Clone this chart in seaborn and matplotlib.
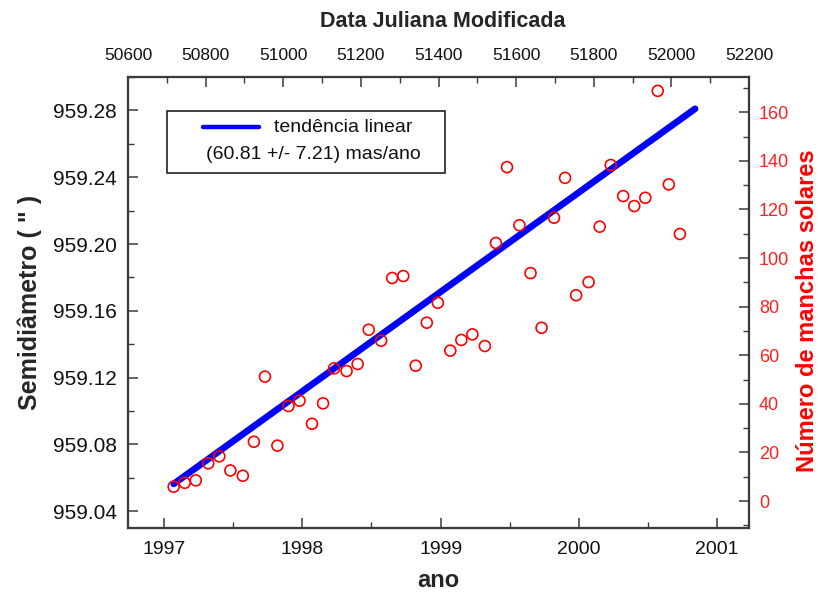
import numpy as np
import pandas as pd
import matplotlib
matplotlib.use("Agg")
import matplotlib.pyplot as plt
from matplotlib.patches import Rectangle
from matplotlib.lines import Line2D
from matplotlib.ticker import MultipleLocator
import seaborn as sns

# ---------------- data ----------------
spot_years = [1997.07, 1997.15, 1997.23, 1997.32, 1997.40, 1997.48, 1997.57, 1997.65,
              1997.73, 1997.82, 1997.90, 1997.98, 1998.07, 1998.15, 1998.23, 1998.32,
              1998.40, 1998.48, 1998.57, 1998.65, 1998.73, 1998.82, 1998.90, 1998.98,
              1999.07, 1999.15, 1999.23, 1999.32, 1999.40, 1999.48, 1999.57, 1999.65,
              1999.73, 1999.82, 1999.90, 1999.98, 2000.07, 2000.15, 2000.23, 2000.32,
              2000.40, 2000.48, 2000.57, 2000.65, 2000.73]
sunspots = [5.9, 7.5, 8.5, 15.5, 18.4, 12.6, 10.4, 24.4,
            51.2, 22.8, 39.1, 41.3, 31.8, 40.2, 54.6, 53.5,
            56.4, 70.5, 66.0, 91.8, 92.6, 55.7, 73.4, 81.6,
            61.9, 66.3, 68.6, 63.8, 106.2, 137.4, 113.5, 93.8,
            71.3, 116.6, 133.0, 84.7, 90.1, 112.9, 138.3, 125.5,
            121.4, 124.8, 168.8, 130.3, 109.9]

trend_years = [1997.07, 2000.84]
trend_semidiameter = [959.0564, 959.2810]

year_ticks = [1997, 1998, 1999, 2000, 2001]
mjd_ticks = [50600, 50800, 51000, 51200, 51400, 51600, 51800, 52000, 52200]
left_ticks = [959.04, 959.08, 959.12, 959.16, 959.20, 959.24, 959.28]
right_ticks = [0, 20, 40, 60, 80, 100, 120, 140, 160]

legend_label = "tendência linear"
legend_rate = "(60.81 +/- 7.21) mas/ano"

spots_df = pd.DataFrame({"ano": spot_years, "manchas": sunspots})
trend_df = pd.DataFrame({"ano": trend_years, "semi": trend_semidiameter})

# ---------------- style ----------------
sns.set_style("white")
plt.rcParams["font.family"] = ["Liberation Sans", "DejaVu Sans"]
spine_col = "#3a3a3a"

fig = plt.figure(figsize=(8.18, 5.92), dpi=100)
ax = fig.add_axes([0.1565, 0.1081, 0.7592, 0.7618])

# trend line on left axis
sns.lineplot(data=trend_df, x="ano", y="semi", ax=ax, color="#0000FF",
             linewidth=4.8, solid_capstyle="round", legend=False)
ax.set_xlim(1996.74, 2001.23)
ax.set_ylim(959.03, 959.30)
ax.set_xticks(year_ticks)
ax.set_xticklabels([str(y) for y in year_ticks])
ax.xaxis.set_minor_locator(MultipleLocator(0.5))
ax.set_yticks(left_ticks)
ax.set_yticklabels([f"{v:.2f}" for v in left_ticks])
ax.yaxis.set_minor_locator(MultipleLocator(0.02))
ax.tick_params(axis="both", which="major", direction="in", length=7, width=1.1,
               color=spine_col, labelcolor="#111111")
ax.tick_params(axis="x", which="major", pad=9, labelsize=14)
ax.tick_params(axis="y", which="major", pad=8, labelsize=15)
ax.tick_params(axis="both", which="minor", direction="in", length=4, width=1.0,
               color=spine_col)
ax.set_xlabel("ano", fontsize=17, fontweight="bold")
ax.set_ylabel('Semidiâmetro ( " )', fontsize=18, fontweight="bold")
ax.xaxis.set_label_coords(0.50, -0.117)
ax.yaxis.set_label_coords(-0.159, 0.5)
for lab in (ax.xaxis.label, ax.yaxis.label):
    lab.set_verticalalignment("center")
    lab.set_horizontalalignment("center")

# sunspots on right axis
ax2 = ax.twinx()
sns.scatterplot(data=spots_df, x="ano", y="manchas", ax=ax2, marker="o",
                s=62, facecolor="none", edgecolor="#FF0000", linewidth=1.2,
                legend=False)
ax2.set_ylim(-11.1, 174.5)
ax2.set_yticks(right_ticks)
ax2.set_yticklabels([str(v) for v in right_ticks])
ax2.yaxis.set_minor_locator(MultipleLocator(10))
ax2.tick_params(axis="y", which="major", direction="in", length=7, width=1.1,
                color=spine_col, labelsize=13, labelcolor="#FF2020", pad=7)
ax2.tick_params(axis="y", which="minor", direction="in", length=4, width=1.0,
                color=spine_col)
ax2.set_ylabel("Número de manchas solares", fontsize=17, fontweight="bold",
               color="#FF0000", rotation=90)
ax2.yaxis.set_label_coords(1.094, 0.481)
ax2.yaxis.label.set_verticalalignment("center")
ax2.yaxis.label.set_horizontalalignment("center")
ax2.set_xlabel("")

# top axis: Modified Julian Date
ax3 = ax.twiny()
ax3.set_xlim(50600, 52200)
ax3.set_xticks(mjd_ticks)
ax3.set_xticklabels([str(v) for v in mjd_ticks])
ax3.xaxis.set_minor_locator(MultipleLocator(100))
ax3.tick_params(axis="x", which="major", direction="in", length=7, width=1.1,
                color=spine_col, labelsize=12.5, labelcolor="#111111", pad=10)
ax3.tick_params(axis="x", which="minor", direction="in", length=4, width=1.0,
                color=spine_col)
ax3.set_xlabel("Data Juliana Modificada", fontsize=15.5, fontweight="bold")
ax3.xaxis.set_label_coords(0.507, 1.122)
ax3.xaxis.label.set_verticalalignment("center")
ax3.xaxis.label.set_horizontalalignment("center")

for a in (ax, ax2, ax3):
    for s in a.spines.values():
        s.set_color(spine_col)
        s.set_linewidth(1.5)

# legend box (drawn manually to match the reference layout)
ax3.add_patch(Rectangle((0.0628, 0.787), 0.4477, 0.1376, transform=ax.transAxes,
                        facecolor="white", edgecolor="#222222", linewidth=1.2,
                        zorder=5))
ax3.add_line(Line2D([0.1208, 0.2110], [0.889, 0.889], transform=ax.transAxes,
                    color="#0000FF", linewidth=3.2, zorder=6))
ax3.text(0.2356, 0.889, legend_label, transform=ax.transAxes, fontsize=14,
         va="center", ha="left", color="#111111", zorder=7)
ax3.text(0.298, 0.829, legend_rate, transform=ax.transAxes, fontsize=14,
         va="center", ha="center", color="#111111", zorder=7)

fig.savefig("out.png", dpi=100)
